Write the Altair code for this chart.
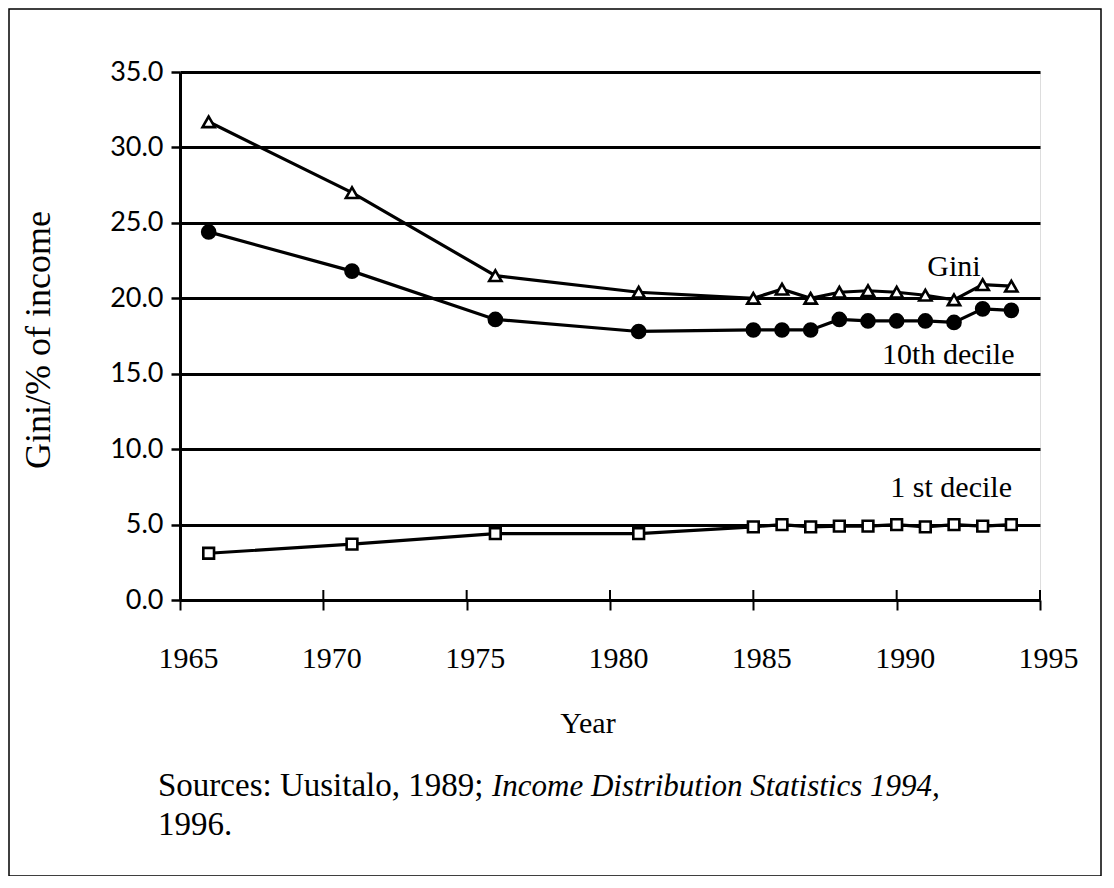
import altair as alt
import pandas as pd

years = [1966, 1971, 1976, 1981, 1985, 1986, 1987, 1988, 1989, 1990, 1991, 1992, 1993, 1994]
gini = [31.7, 27.0, 21.5, 20.4, 20.0, 20.6, 20.0, 20.4, 20.5, 20.4, 20.2, 19.9, 20.9, 20.8]
decile10 = [24.4, 21.8, 18.6, 17.8, 17.9, 17.9, 17.9, 18.6, 18.5, 18.5, 18.5, 18.4, 19.3, 19.2]
decile1 = [3.1, 3.7, 4.4, 4.4, 4.85, 5.0, 4.85, 4.9, 4.9, 5.0, 4.85, 5.0, 4.9, 5.0]

x_ticks = [1965, 1970, 1975, 1980, 1985, 1990, 1995]
y_ticks = [0, 5, 10, 15, 20, 25, 30, 35]

label_text = ["Gini", "10th decile", "1 st decile"]
label_year = [1992.0, 1991.8, 1991.9]
label_value = [21.5, 15.65, 6.8]

FONT = "Liberation Serif"

df = pd.DataFrame({"Year": years, "Gini": gini, "10th": decile10, "1st": decile1})

xs = alt.Scale(domain=[1965, 1995], nice=False, zero=False)
ys = alt.Scale(domain=[0, 35], nice=False)

x_axis = alt.Axis(values=x_ticks, format="d", title=None, grid=False)
y_axis = alt.Axis(values=y_ticks, format=".1f", title=None, grid=True)

base = alt.Chart(df)

def series(field, shape, filled, size):
    line = base.mark_line(color="black", strokeWidth=3.2).encode(
        x=alt.X("Year:Q", scale=xs, axis=x_axis),
        y=alt.Y(f"{field}:Q", scale=ys, axis=y_axis),
    )
    pts = base.mark_point(shape=shape, filled=True, fill="black" if filled else "white",
                          stroke="black", strokeWidth=2.6, size=size, opacity=1).encode(
        x=alt.X("Year:Q", scale=xs, axis=x_axis),
        y=alt.Y(f"{field}:Q", scale=ys, axis=y_axis),
    )
    return line + pts

gini_layer = series("Gini", "triangle-up", False, 150)
d10_layer = series("10th", "circle", True, 170)
d1_layer = series("1st", "square", False, 115)

# x ticks crossing the axis (inner part)
tick_df = pd.DataFrame({"t": x_ticks})
inner_ticks = alt.Chart(tick_df).mark_rule(color="black", strokeWidth=2).encode(
    x=alt.X("t:Q", scale=xs, axis=x_axis),
    y=alt.value(528),
    y2=alt.value(518),
)

lab_df = pd.DataFrame({"text": label_text, "x": label_year, "y": label_value})
labels = alt.Chart(lab_df).mark_text(font=FONT, fontSize=30, color="black", align="center",
                                     baseline="alphabetic").encode(
    x=alt.X("x:Q", scale=xs, axis=x_axis),
    y=alt.Y("y:Q", scale=ys, axis=y_axis),
    text="text:N",
)

ann = pd.DataFrame({"a": [0]})
y_title = alt.Chart(ann).mark_text(text="Gini/% of income", font=FONT, fontSize=36, angle=270,
                                   align="center", baseline="middle", color="black").encode(
    x=alt.value(-141), y=alt.value(268))
x_title = alt.Chart(ann).mark_text(text="Year", font=FONT, fontSize=30, align="center",
                                   baseline="middle", color="black").encode(
    x=alt.value(408), y=alt.value(652))
src1 = alt.Chart(ann).mark_text(text="Sources: Uusitalo, 1989;", font=FONT, fontSize=33,
                                align="left", baseline="alphabetic", color="black").encode(
    x=alt.value(-22), y=alt.value(724))
src1i = alt.Chart(ann).mark_text(text="Income Distribution Statistics 1994,", font=FONT,
                                 fontSize=31, fontStyle="italic", align="left",
                                 baseline="alphabetic", color="black").encode(
    x=alt.value(312), y=alt.value(724))
src2 = alt.Chart(ann).mark_text(text="1996.", font=FONT, fontSize=33, align="left",
                                baseline="alphabetic", color="black").encode(
    x=alt.value(-22), y=alt.value(763))

border = alt.Chart(ann).mark_rect(fill="white", fillOpacity=0, stroke="black",
                                  strokeWidth=1.5).encode(
    x=alt.value(-171), x2=alt.value(921), y=alt.value(-63), y2=alt.value(804))

chart = alt.layer(
    border, gini_layer, d10_layer, d1_layer, inner_ticks, labels,
    y_title, x_title, src1, src1i, src2,
).properties(
    width=860, height=528,
    autosize=alt.AutoSizeParams(type="none"),
    padding={"left": 172, "top": 64, "right": 62, "bottom": 276},
).configure_view(stroke=None).configure(background="white").configure_axisX(
    labelFont=FONT, labelFontSize=30, labelColor="black", domainColor="black", domainWidth=3,
    tickColor="black", tickWidth=2, tickSize=10, labelPadding=33, labelOffset=8,
    labelFlush=False,
).configure_axisY(
    labelFont="Lato", labelFontSize=27, labelColor="black", domainColor="black", domainWidth=3,
    tickColor="black", tickWidth=2.5, tickSize=9, labelPadding=8, gridColor="black",
    gridWidth=2.8, gridOpacity=1,
)

chart.save("out.html", embed_options={"renderer": "svg", "actions": False})
